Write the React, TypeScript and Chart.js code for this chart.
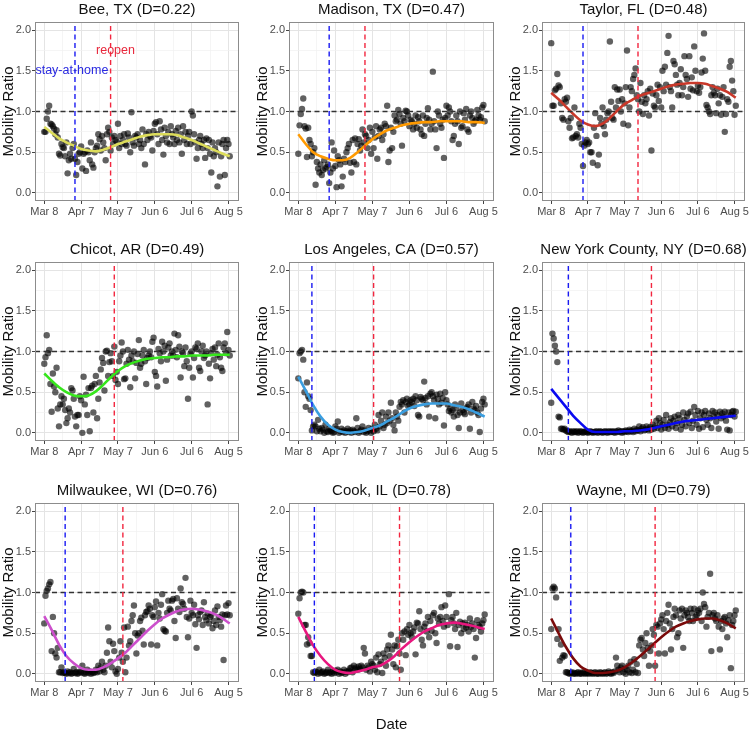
import React, { useEffect, useRef } from "react";
import { Chart, registerables } from "chart.js";

Chart.register(...registerables);
Chart.defaults.font.family = '"Liberation Sans", Arial, Helvetica, sans-serif';

// ---- axes ----
const DATE_TICKS = [0, 30, 60, 90, 120, 150];
const DATE_LABELS = ["Mar 8", "Apr 7", "May 7", "Jun 6", "Jul 6", "Aug 5"];
const DATE_MINOR = [15, 45, 75, 105, 135];
const Y_TICKS = [0, 0.5, 1, 1.5, 2];
const Y_LABELS = ["0.0", "0.5", "1.0", "1.5", "2.0"];
const Y_MINOR = [0.25, 0.75, 1.25, 1.75];
const X_MIN = -7.55;
const X_MAX = 158.55;
const Y_MIN = -0.1;
const Y_MAX = 2.1;

// ---- panel titles & policy dates (days since Mar 8) ----
const TITLES = [
  "Bee, TX (D=0.22)", "Madison, TX (D=0.47)", "Taylor, FL (D=0.48)",
  "Chicot, AR (D=0.49)", "Los Angeles, CA (D=0.57)", "New York County, NY (D=0.68)",
  "Milwaukee, WI (D=0.76)", "Cook, IL (D=0.78)", "Wayne, MI (D=0.79)",
];
const STAY_DAYS = [25, 25, 26, null, 11, 14, 17, 13, 16];
const REOPEN_DAYS = [54, 54, 71, 57, 61, 82, 64, 82, 85];
const FIT_COLORS = ["#dcdc5a", "#ff9a00", "#c9382a", "#36e61c", "#3a9ee0", "#0a0af0", "#cc4fcc", "#e8177f", "#7a0a0a"];

const NOTE_TEXTS = ["stay-at-home", "reopen"];
const NOTE_DAYS = [22.5, 58];
const NOTE_VALUES = [1.5, 1.75];
const NOTE_COLORS = ["#2828e0", "#e8283c"];

// ---- daily mobility ratio (index = days since Mar 8) ----
const BEE_TX = [
  0.75, 0.75, 0.91, 1.0, 1.07, 0.85, 0.84, 0.82, 0.79, 0.72,
  0.77, 0.68, 0.48, 0.46, 0.6, 0.56, 0.55, 0.45, 0.62, 0.24,
  0.4, 0.48, 0.42, 0.55, 0.6, 0.42, 0.22, 0.38, 0.48, 0.5,
  0.57, 0.3, 0.48, 0.5, 0.27, 0.52, 0.5, 0.4, 0.62, 0.35,
  0.31, 0.5, 0.55, 0.58, 0.72, 0.66, 0.52, 0.7, 0.62, 0.55,
  0.4, 0.72, 0.8, 0.75, 0.52, 0.68, 0.6, 0.7, 0.65, 0.63,
  0.85, 0.55, 0.7, 0.6, 0.65, 0.72, 0.6, 0.58, 0.73, 0.68,
  0.5, 0.99, 0.62, 0.58, 0.7, 0.68, 0.72, 0.6, 0.65, 0.55,
  0.78, 0.6, 0.35, 0.72, 0.65, 0.75, 0.7, 0.68, 0.52, 0.76,
  0.85, 0.87, 0.72, 0.6, 0.88, 0.78, 0.65, 0.47, 0.8, 0.7,
  0.62, 0.75, 0.6, 0.82, 0.72, 0.68, 0.6, 0.76, 0.65, 0.8,
  0.62, 0.72, 0.48, 0.82, 0.65, 0.75, 0.6, 0.7, 0.75, 0.6,
  1.0, 0.95, 0.72, 0.62, 0.42, 0.55, 0.65, 0.7, 0.6, 0.55,
  0.65, 0.43, 0.67, 0.55, 0.65, 0.48, 0.25, 0.62, 0.45, 0.55,
  0.5, 0.08, 0.62, 0.2, 0.45, 0.6, 0.65, 0.22, 0.55, 0.65,
  0.6, 0.45,
];
const MADISON_TX = [
  0.48, 0.83, 0.97, 1.03, 1.16, 0.82, 0.79, 0.44, 0.8, 0.65,
  0.6, 0.45, 0.5, 0.55, 0.1, 0.38, 0.3, 0.25, 0.35, 0.22,
  0.28, 0.4, 0.3, 0.32, 0.35, 0.12, 0.25, 0.62, 0.3, 0.52,
  0.33, 0.07, 0.45, 0.4, 0.35, 0.08, 0.2, 0.42, 0.38, 0.5,
  0.55, 0.6, 0.37, 0.25, 0.65, 0.38, 0.67, 0.35, 0.6, 0.66,
  0.52, 0.58, 0.78, 0.62, 0.72, 0.7, 0.55, 0.65, 0.8, 0.48,
  0.75, 0.55, 0.68, 0.82, 0.42, 0.7, 0.78, 0.8, 0.65, 0.72,
  0.85, 0.82, 1.07, 0.38, 0.52, 0.8, 0.55, 0.75, 0.95, 0.88,
  0.9, 1.02, 0.97, 0.85, 0.58, 0.92, 0.88, 1.01, 1.0, 0.95,
  0.82, 0.9, 0.88, 0.78, 0.85, 0.95, 0.8, 0.93, 0.88, 0.78,
  0.72, 0.95, 0.7, 0.85, 0.92, 1.04, 0.9, 0.78, 0.85, 1.49,
  0.88, 0.78, 0.55, 1.0, 0.95, 0.85, 0.8, 0.9, 0.43, 0.92,
  1.07, 0.95, 1.05, 1.0, 0.88, 0.65, 0.7, 0.85, 0.95, 0.88,
  0.6, 1.0, 0.8, 0.82, 0.98, 0.9, 1.03, 0.78, 0.75, 0.95,
  1.0, 0.92, 0.85, 0.88, 0.9, 1.02, 0.95, 0.9, 0.93, 1.05,
  1.08, 0.88,
];
const TAYLOR_FL = [
  1.84, 1.07, 1.07, 1.26, 1.28, 1.46, 1.32, 1.3, 1.1, 0.92,
  0.9, 1.15, 1.12, 1.17, 0.88, 0.8, 0.92, 0.67, 0.68, 1.05,
  0.7, 0.72, 0.68, 0.85, 0.8, 0.6, 0.33, 0.58, 0.62, 0.65,
  0.6, 0.62, 0.5, 0.5, 0.37, 0.8, 0.98, 0.7, 0.34, 0.47,
  0.92, 0.85, 1.05, 0.82, 0.72, 0.9, 0.98, 1.0, 1.86, 1.12,
  0.92, 0.9, 1.3, 1.05, 1.27, 1.13, 1.27, 1.0, 1.15, 0.85,
  1.1, 1.3, 1.75, 0.83, 1.05, 1.3, 1.25, 1.4, 1.45, 1.53,
  1.2, 1.15, 1.0, 1.35, 1.12, 0.97, 1.2, 1.1, 1.15, 1.25,
  0.95, 1.28, 0.52, 1.22, 1.07, 1.05, 1.2, 1.33, 1.13, 1.3,
  1.05, 1.5, 1.25, 1.55, 1.33, 1.72, 1.93, 1.3, 1.25, 1.05,
  1.62, 1.58, 1.45, 1.33, 1.2, 1.35, 1.52, 1.2, 1.3, 1.68,
  1.45, 1.4, 1.18, 1.68, 1.28, 1.42, 1.26, 1.8, 1.5, 1.25,
  1.32, 1.23, 1.3, 1.48, 1.65, 1.96, 1.5, 1.08, 1.05, 1.0,
  0.97, 1.2, 1.3, 1.23, 1.2, 0.98, 1.28, 1.1, 1.2, 0.96,
  1.18, 1.3, 0.75, 0.97, 1.15, 1.12, 1.55, 1.62, 1.38, 1.25,
  0.96, 1.07,
];
const CHICOT_AR = [
  0.85, 0.93, 1.2, 0.98, 1.02, 0.6, 0.26, 0.73, 0.57, 0.5,
  0.8, 0.3, 0.08, 0.35, 0.45, 0.35, 0.42, 0.28, 0.12, 0.18,
  0.3, 0.25, 0.55, 0.52, 0.42, 0.2, 0.08, 0.22, 0.22, 0.45,
  0.4, 0.0, 0.69, 0.35, 0.47, 0.22, 0.55, 0.02, 0.55, 0.58,
  0.25, 0.6, 0.7, 0.18, 0.42, 0.62, 0.78, 0.92, 0.86, 0.52,
  1.0, 1.01, 0.7, 0.87, 0.98, 0.88, 0.7, 1.06, 0.65, 0.75,
  0.6, 0.88, 0.95, 1.11, 1.0, 0.66, 0.67, 0.85, 1.02, 0.9,
  0.56, 0.95, 0.88, 1.0, 0.67, 0.86, 0.97, 1.14, 0.8, 0.85,
  0.95, 1.02, 0.88, 0.6, 0.92, 0.95, 1.0, 0.93, 1.12, 1.17,
  0.75, 0.7, 0.57, 1.03, 0.98, 0.88, 1.12, 1.0, 1.07, 0.64,
  0.9, 1.05, 1.1, 0.95, 1.0, 0.95, 1.22, 1.02, 0.93, 1.2,
  1.06, 0.68, 1.0, 0.98, 0.82, 1.05, 0.88, 0.42, 0.8, 0.97,
  1.0, 0.68, 0.92, 1.05, 1.03, 1.1, 0.8, 0.76, 1.0, 1.07,
  0.92, 0.95, 1.0, 0.35, 0.85, 0.67, 0.98, 1.03, 0.9, 1.05,
  0.82, 0.96, 1.1, 0.93, 0.8, 0.76, 1.05, 1.1, 0.98, 1.24,
  1.02, 0.95,
];
const LOS_ANGELES_CA = [
  0.67, 0.98, 1.0, 1.02, 0.9, 0.5, 0.32, 0.62, 0.45, 0.42,
  0.28, 0.03, 0.08, 0.1, 0.08, 0.02, 0.16, 0.05, 0.02, 0.06,
  0.04, 0.0, 0.1, 0.02, 0.01, 0.05, 0.03, 0.02, 0.0, 0.01,
  0.08, 0.05, 0.14, 0.0, 0.02, 0.05, 0.01, 0.03, 0.0, 0.02,
  0.05, 0.01, 0.03, 0.0, 0.04, 0.02, 0.01, 0.18, 0.06, 0.0,
  0.02, 0.04, 0.08, 0.01, 0.03, 0.0, 0.02, 0.06, 0.03, 0.0,
  0.05, 0.02, 0.1, 0.05, 0.03, 0.22, 0.08, 0.15, 0.25, 0.06,
  0.1, 0.2, 0.12, 0.25, 0.15, 0.37, 0.18, 0.1, 0.03, 0.25,
  0.2, 0.15, 0.32, 0.38, 0.35, 0.4, 0.25, 0.38, 0.42, 0.33,
  0.35, 0.4, 0.38, 0.42, 0.33, 0.45, 0.4, 0.22, 0.2, 0.44,
  0.42, 0.4, 0.63, 0.43, 0.35, 0.45, 0.2, 0.48, 0.5, 0.45,
  0.4, 0.18, 0.47, 0.42, 0.35, 0.48, 0.37, 0.43, 0.09, 0.5,
  0.4, 0.35, 0.27, 0.3, 0.25, 0.28, 0.2, 0.35, 0.3, 0.22,
  0.06, 0.25, 0.36, 0.28, 0.25, 0.23, 0.3, 0.32, 0.35, 0.05,
  0.25, 0.38, 0.3, 0.28, 0.33, 0.25, 0.22, 0.01, 0.3, 0.38,
  0.42, 0.35,
];
const NEW_YORK_NY = [
  0.37, 1.22, 1.16, 1.07, 1.0, 0.87, 0.2, 0.19, 0.05, 0.05,
  0.04, 0.05, 0.03, 0.02, 0.01, 0.02, 0.01, 0.0, 0.02, 0.01,
  0.01, 0.02, 0.0, 0.01, 0.02, 0.01, 0.0, 0.01, 0.02, 0.01,
  0.0, 0.01, 0.02, 0.01, 0.0, 0.01, 0.01, 0.02, 0.0, 0.01,
  0.02, 0.01, 0.0, 0.01, 0.02, 0.01, 0.0, 0.02, 0.01, 0.01,
  0.02, 0.01, 0.0, 0.02, 0.01, 0.03, 0.01, 0.02, 0.0, 0.02,
  0.01, 0.03, 0.02, 0.01, 0.04, 0.02, 0.03, 0.01, 0.05, 0.02,
  0.04, 0.03, 0.08, 0.02, 0.05, 0.07, 0.03, 0.04, 0.08, 0.05,
  0.03, 0.07, 0.04, 0.1, 0.05, 0.08, 0.15, 0.06, 0.18, 0.12,
  0.04, 0.1, 0.16, 0.06, 0.22, 0.1, 0.05, 0.13, 0.18, 0.08,
  0.15, 0.2, 0.06, 0.12, 0.22, 0.18, 0.04, 0.1, 0.25, 0.16,
  0.08, 0.2, 0.24, 0.12, 0.26, 0.06, 0.15, 0.32, 0.22, 0.1,
  0.27, 0.05, 0.18, 0.25, 0.07, 0.22, 0.27, 0.16, 0.1, 0.24,
  0.18, 0.06, 0.27, 0.2, 0.25, 0.14, 0.22, 0.05, 0.26, 0.18,
  0.24, 0.2, 0.26, 0.15, 0.04, 0.25, 0.03, 0.22, 0.26, 0.27,
  0.2, 0.26,
];
const MILWAUKEE_WI = [
  0.62, 0.96, 1.02, 1.05, 1.1, 1.13, 0.28, 0.7, 0.5, 0.25,
  0.2, 0.32, 0.02, 0.02, 0.08, 0.01, 0.02, 0.01, 0.0, 0.03,
  0.01, 0.02, 0.0, 0.01, 0.06, 0.01, 0.02, 0.0, 0.01, 0.03,
  0.02, 0.1, 0.01, 0.0, 0.02, 0.05, 0.01, 0.03, 0.0, 0.02,
  0.01, 0.02, 0.05, 0.02, 0.1, 0.03, 0.08, 0.15, 0.05, 0.02,
  0.1, 0.26, 0.57, 0.4, 0.15, 0.08, 0.37, 0.28, 0.03, 0.0,
  0.06, 0.2, 0.4, 0.26, 0.15, 0.57, 0.02, 0.2, 0.58, 0.35,
  0.4, 0.65, 0.72, 0.84, 0.5, 0.25, 0.47, 0.5, 0.65, 0.69,
  0.53, 0.36, 0.72, 0.76, 0.77, 0.84, 0.8, 0.36, 0.72, 0.7,
  0.82, 0.89, 0.35, 0.75, 0.68, 0.85, 0.98, 0.55, 0.53, 0.52,
  0.75, 0.9, 0.8, 0.78, 0.9, 0.92, 0.65, 0.44, 0.93, 0.8,
  0.76, 1.05, 0.88, 0.86, 0.8, 1.18, 0.7, 0.45, 0.68, 0.9,
  0.75, 0.72, 0.85, 0.61, 0.32, 0.72, 0.67, 0.76, 0.78, 0.6,
  0.88, 0.7, 0.66, 0.74, 0.62, 0.7, 0.72, 0.56, 0.65, 0.78,
  0.6, 0.83, 0.7, 0.66, 0.58, 0.73, 0.17, 0.72, 0.84, 0.73,
  0.87, 0.72,
];
const COOK_IL = [
  0.74, 0.93, 1.0, 1.01, 1.0, 0.6, 0.6, 0.36, 0.45, 0.38,
  0.22, 0.22, 0.02, 0.01, 0.03, 0.02, 0.0, 0.05, 0.01, 0.02,
  0.03, 0.0, 0.01, 0.02, 0.05, 0.01, 0.02, 0.0, 0.03, 0.01,
  0.04, 0.02, 0.05, 0.0, 0.03, 0.01, 0.02, 0.05, 0.0, 0.03,
  0.02, 0.04, 0.07, 0.08, 0.02, 0.1, 0.06, 0.08, 0.05, 0.09,
  0.06, 0.1, 0.08, 0.32, 0.25, 0.05, 0.1, 0.08, 0.03, 0.15,
  0.12, 0.1, 0.05, 0.2, 0.02, 0.24, 0.12, 0.15, 0.01, 0.25,
  0.2, 0.1, 0.3, 0.35, 0.22, 0.48, 0.3, 0.12, 0.35, 0.08,
  0.34, 0.42, 0.25, 0.05, 0.5, 0.42, 0.52, 0.23, 0.55, 0.48,
  0.6, 0.5, 0.45, 0.52, 0.57, 0.24, 0.63, 0.62, 0.77, 0.55,
  0.42, 0.35, 0.58, 0.62, 0.52, 0.7, 0.45, 0.65, 0.53, 0.72,
  0.75, 0.5, 0.38, 0.68, 0.62, 0.7, 0.82, 0.65, 0.58, 0.84,
  0.7, 0.6, 0.98, 0.34, 0.66, 0.7, 0.62, 0.55, 0.75, 0.33,
  0.6, 0.64, 0.5, 0.62, 0.55, 0.63, 0.57, 0.6, 0.52, 0.68,
  0.58, 0.62, 0.55, 0.2, 0.44, 0.66, 0.6, 0.58, 0.52, 0.62,
  0.66, 0.73,
];
const WAYNE_MI = [
  0.55, 1.05, 1.07, 1.05, 0.94, 0.43, 0.55, 0.16, 0.36, 0.2,
  0.23, 0.22, 0.02, 0.02, 0.01, 0.0, 0.01, 0.02, 0.0, 0.01,
  0.0, 0.01, 0.02, 0.0, 0.01, 0.0, 0.02, 0.01, 0.0, 0.01,
  0.01, 0.0, 0.02, 0.01, 0.0, 0.01, 0.02, 0.0, 0.01, 0.0,
  0.02, 0.01, 0.0, 0.01, 0.02, 0.0, 0.01, 0.03, 0.01, 0.0,
  0.02, 0.01, 0.03, 0.2, 0.1, 0.05, 0.02, 0.08, 0.1, 0.02,
  0.06, 0.0, 0.05, 0.1, 0.02, 0.15, 0.01, 0.05, 0.18, 0.02,
  0.12, 0.01, 0.35, 0.42, 0.44, 0.3, 0.22, 0.38, 0.5, 0.32,
  0.1, 0.28, 0.35, 0.55, 0.48, 0.1, 0.6, 0.58, 0.25, 0.62,
  0.67, 0.72, 0.55, 0.25, 0.65, 0.75, 0.85, 0.62, 0.3, 0.55,
  0.7, 0.8, 0.72, 0.45, 0.5, 0.78, 0.68, 0.8, 0.32, 0.72,
  0.78, 0.75, 0.7, 0.65, 0.8, 0.75, 0.65, 0.8, 0.7, 0.72,
  0.78, 0.75, 0.8, 0.65, 1.0, 0.86, 0.82, 0.58, 0.7, 0.75,
  1.23, 0.28, 0.72, 0.75, 0.68, 0.65, 0.72, 0.58, 0.3, 0.65,
  0.55, 0.68, 0.7, 0.62, 0.45, 0.66, 0.72, 0.07, 0.6, 0.65,
  0.72, 0.78,
];

// ---- smoothed fits, sampled on FIT_DAYS ----
const FIT_DAYS = [0, 6, 12, 18, 24, 30, 36, 42, 48, 54, 60, 66, 72, 78, 84, 90, 96, 102, 108, 114, 120, 126, 132, 138, 144, 151];
const BEE_TX_FIT = [0.81, 0.74, 0.67, 0.62, 0.58, 0.54, 0.52, 0.51, 0.53, 0.56, 0.6, 0.63, 0.66, 0.69, 0.71, 0.72, 0.72, 0.72, 0.71, 0.68, 0.65, 0.61, 0.57, 0.53, 0.49, 0.45];
const MADISON_TX_FIT = [0.72, 0.6, 0.5, 0.45, 0.42, 0.4, 0.4, 0.43, 0.5, 0.58, 0.66, 0.72, 0.77, 0.8, 0.83, 0.85, 0.86, 0.87, 0.87, 0.88, 0.88, 0.88, 0.88, 0.87, 0.87, 0.86];
const TAYLOR_FL_FIT = [1.23, 1.15, 1.06, 0.97, 0.89, 0.84, 0.82, 0.85, 0.92, 1.01, 1.09, 1.14, 1.19, 1.22, 1.25, 1.28, 1.31, 1.33, 1.34, 1.35, 1.35, 1.34, 1.31, 1.28, 1.24, 1.17];
const CHICOT_AR_FIT = [0.73, 0.64, 0.56, 0.5, 0.46, 0.45, 0.46, 0.51, 0.59, 0.68, 0.76, 0.82, 0.86, 0.89, 0.91, 0.92, 0.93, 0.93, 0.94, 0.94, 0.95, 0.95, 0.95, 0.96, 0.96, 0.96];
const LOS_ANGELES_CA_FIT = [0.69, 0.52, 0.34, 0.2, 0.1, 0.04, 0.01, 0.0, 0.01, 0.03, 0.06, 0.09, 0.14, 0.19, 0.25, 0.3, 0.33, 0.35, 0.36, 0.36, 0.36, 0.34, 0.32, 0.29, 0.25, 0.2];
const NEW_YORK_NY_FIT = [0.54, 0.43, 0.32, 0.21, 0.12, 0.04, 0.01, 0.01, 0.01, 0.01, 0.02, 0.02, 0.03, 0.04, 0.06, 0.08, 0.1, 0.12, 0.14, 0.15, 0.16, 0.17, 0.18, 0.19, 0.2, 0.21];
const MILWAUKEE_WI_FIT = [0.71, 0.54, 0.36, 0.22, 0.13, 0.07, 0.05, 0.05, 0.08, 0.13, 0.19, 0.26, 0.35, 0.44, 0.53, 0.61, 0.68, 0.73, 0.77, 0.79, 0.8, 0.79, 0.77, 0.74, 0.69, 0.62];
const COOK_IL_FIT = [0.7, 0.52, 0.35, 0.22, 0.12, 0.05, 0.02, 0.01, 0.03, 0.05, 0.08, 0.1, 0.15, 0.22, 0.31, 0.39, 0.46, 0.52, 0.56, 0.6, 0.62, 0.63, 0.62, 0.6, 0.58, 0.55];
const WAYNE_MI_FIT = [0.68, 0.5, 0.33, 0.19, 0.09, 0.04, 0.01, 0.01, 0.02, 0.04, 0.08, 0.14, 0.21, 0.29, 0.37, 0.45, 0.52, 0.58, 0.62, 0.65, 0.67, 0.68, 0.68, 0.66, 0.62, 0.56];

const SERIES = [BEE_TX, MADISON_TX, TAYLOR_FL, CHICOT_AR, LOS_ANGELES_CA, NEW_YORK_NY, MILWAUKEE_WI, COOK_IL, WAYNE_MI];
const FITS = [BEE_TX_FIT, MADISON_TX_FIT, TAYLOR_FL_FIT, CHICOT_AR_FIT, LOS_ANGELES_CA_FIT, NEW_YORK_NY_FIT, MILWAUKEE_WI_FIT, COOK_IL_FIT, WAYNE_MI_FIT];

// ---- layout ----
const PLOT_LEFT = [35, 289, 542];
const PLOT_W = [206, 207, 205];
const PLOT_TOP = [22, 262, 503];
const PLOT_H = 179;
const Y_AXIS_W = 35;
const TITLE_H = 22;
const X_AXIS_H = 26;
const RIGHT_PAD = 2;

const FONT = '"Liberation Sans", Arial, Helvetica, sans-serif';

const decorPlugin = {
  id: "panelDecor",
  afterDraw(chart: any, _args: any, opts: any) {
    const { ctx, chartArea: a } = chart;
    const xs = chart.scales.x;
    const ys = chart.scales.y;
    ctx.save();
    ctx.strokeStyle = "#8c8c8c";
    ctx.lineWidth = 1;
    ctx.strokeRect(a.left + 0.5, a.top + 0.5, a.right - a.left - 1, a.bottom - a.top - 1);
    ctx.fillStyle = "#111";
    ctx.font = `15px ${FONT}`;
    ctx.textAlign = "center";
    ctx.textBaseline = "middle";
    ctx.fillText(opts.title, (a.left + a.right) / 2, a.top - 12.5);
    if (opts.notes) {
      ctx.font = `12.5px ${FONT}`;
      NOTE_TEXTS.forEach((t, i) => {
        ctx.fillStyle = NOTE_COLORS[i];
        ctx.fillText(t, xs.getPixelForValue(NOTE_DAYS[i]), ys.getPixelForValue(NOTE_VALUES[i]));
      });
    }
    ctx.restore();
  },
};

function Panel({ idx }: { idx: number }) {
  const ref = useRef<HTMLCanvasElement>(null);
  const col = idx % 3;
  const row = Math.floor(idx / 3);
  const showDate = idx === 7;
  const top = PLOT_TOP[row] - TITLE_H;
  const left = PLOT_LEFT[col] - Y_AXIS_W;
  const xH = showDate ? 735 - top - TITLE_H - PLOT_H : X_AXIS_H;
  const w = Y_AXIS_W + PLOT_W[col] + RIGHT_PAD;
  const h = TITLE_H + PLOT_H + xH;

  useEffect(() => {
    const pts = SERIES[idx];
    const fit = FITS[idx];
    const dashed = (x0: number, y0: number, x1: number, y1: number, color: string, order: number) => ({
      data: [{ x: x0, y: y0 }, { x: x1, y: y1 }],
      showLine: true,
      borderColor: color,
      borderWidth: 1.4,
      borderDash: [5, 3.5],
      pointRadius: 0,
      order,
    });
    const datasets: any[] = [
      {
        data: pts.map((v, i) => ({ x: i, y: v })),
        pointBackgroundColor: "rgba(0,0,0,0.62)",
        pointBorderWidth: 0,
        pointBorderColor: "rgba(0,0,0,0)",
        pointRadius: 3.2,
        showLine: false,
        order: 5,
      },
      {
        data: FIT_DAYS.map((d, i) => ({ x: d, y: fit[i] })),
        showLine: true,
        borderColor: FIT_COLORS[idx],
        borderWidth: 2.6,
        pointRadius: 0,
        cubicInterpolationMode: "monotone",
        order: 4,
      },
      dashed(X_MIN, 1, X_MAX, 1, "#333333", 3),
    ];
    const stay = STAY_DAYS[idx];
    if (stay != null) datasets.push(dashed(stay, Y_MIN, stay, Y_MAX, "#1a1af2", 2));
    const reo = REOPEN_DAYS[idx];
    datasets.push(dashed(reo, Y_MIN, reo, Y_MAX, "#f2263f", 1));

    const majorX = (v: number) => DATE_TICKS.includes(v);
    const majorY = (v: number) => Y_TICKS.includes(v);

    const chart = new Chart(ref.current as HTMLCanvasElement, {
      type: "scatter",
      data: { datasets },
      plugins: [decorPlugin],
      options: {
        animation: false,
        responsive: false,
        devicePixelRatio: 1,
        events: [],
        layout: { padding: { top: TITLE_H, right: RIGHT_PAD, left: 0, bottom: 0 } },
        plugins: {
          legend: { display: false },
          tooltip: { enabled: false },
          title: { display: false },
          panelDecor: { title: TITLES[idx], notes: idx === 0 },
        } as any,
        scales: {
          x: {
            type: "linear",
            min: X_MIN,
            max: X_MAX,
            afterBuildTicks: (s: any) => {
              s.ticks = [...DATE_TICKS, ...DATE_MINOR].sort((a, b) => a - b).map((v) => ({ value: v }));
            },
            afterFit: (s: any) => {
              s.height = xH;
              s.paddingLeft = 0;
              s.paddingRight = 0;
            },
            ticks: {
              autoSkip: false,
              maxRotation: 0,
              padding: 1,
              color: "#4d4d4d",
              font: { size: 11 },
              callback: (v: any) => {
                const k = DATE_TICKS.indexOf(Number(v));
                return k >= 0 ? DATE_LABELS[k] : "";
              },
            },
            grid: {
              color: (c: any) => (majorX(c.tick?.value) ? "#e4e4e4" : "#f1f1f1"),
              lineWidth: (c: any) => (majorX(c.tick?.value) ? 1 : 0.7),
              tickLength: 3,
              tickColor: (c: any) => (majorX(c.tick?.value) ? "#444" : "rgba(0,0,0,0)"),
              tickWidth: 1,
            },
            border: { display: false },
            title: showDate
              ? { display: true, text: "Date", color: "#111", font: { size: 15 }, padding: { top: 0, bottom: 1 } }
              : { display: false },
          },
          y: {
            type: "linear",
            min: Y_MIN,
            max: Y_MAX,
            afterBuildTicks: (s: any) => {
              s.ticks = [...Y_TICKS, ...Y_MINOR].sort((a, b) => a - b).map((v) => ({ value: v }));
            },
            afterFit: (s: any) => {
              s.width = Y_AXIS_W;
              s.paddingTop = 0;
              s.paddingBottom = 0;
            },
            ticks: {
              autoSkip: false,
              padding: 1,
              color: "#4d4d4d",
              font: { size: 11 },
              callback: (v: any) => {
                const k = Y_TICKS.indexOf(Number(v));
                return k >= 0 ? Y_LABELS[k] : "";
              },
            },
            grid: {
              color: (c: any) => (majorY(c.tick?.value) ? "#e4e4e4" : "#f1f1f1"),
              lineWidth: (c: any) => (majorY(c.tick?.value) ? 1 : 0.7),
              tickLength: 3,
              tickColor: (c: any) => (majorY(c.tick?.value) ? "#444" : "rgba(0,0,0,0)"),
              tickWidth: 1,
            },
            border: { display: false },
            title: { display: true, text: "Mobility Ratio", color: "#111", font: { size: 15 }, padding: { top: 0, bottom: 0 } },
          },
        },
      } as any,
    });
    return () => chart.destroy();
  }, []);

  return (
    <canvas
      ref={ref}
      width={w}
      height={h}
      style={{ position: "absolute", left, top, width: w, height: h }}
    />
  );
}

export default function App() {
  return (
    <div
      style={{
        position: "absolute",
        left: 0,
        top: 0,
        width: 750,
        height: 735,
        overflow: "hidden",
        background: "#fff",
      }}
    >
      {TITLES.map((_, i) => (
        <Panel key={i} idx={i} />
      ))}
    </div>
  );
}
